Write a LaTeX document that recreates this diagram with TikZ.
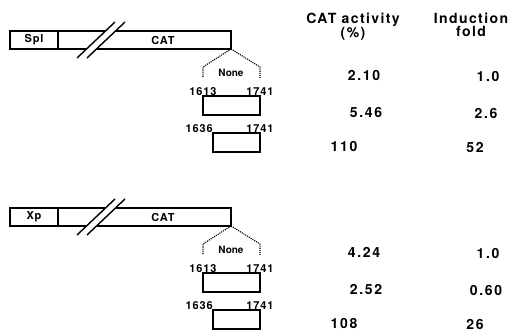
\documentclass[tikz,border=0pt]{standalone}
\usepackage{fontspec}
\setmainfont{TeX Gyre Heros}
\usepackage{tikz}
\usetikzlibrary{calc, positioning}

\begin{document}
\begin{tikzpicture}[x=1pt, y=-1pt,
    bar/.style={draw, line width=1.4pt, minimum height=18, inner sep=0, outer sep=0, anchor=north west,
        font=\bfseries\fontsize{11}{11}\selectfont\addfontfeatures{LetterSpace=8}},
    delbox/.style={draw, line width=1.4pt, minimum height=19, inner sep=0, outer sep=0, anchor=north east},
    lbl/.style={inner sep=0, font=\bfseries\fontsize{11}{11}\selectfont\addfontfeatures{LetterSpace=8}},
    val/.style={inner sep=0, font=\bfseries\fontsize{14}{14}\selectfont\addfontfeatures{LetterSpace=12}},
    head/.style={inner sep=0, anchor=north, align=center,
        font=\bfseries\fontsize{14}{13}\selectfont\addfontfeatures{LetterSpace=10}},
    dots/.style={densely dotted, line width=1.1pt}]
    \useasboundingbox (0,0) rectangle (509,331);

    % Tiêu đề các cột
    \node[head] (acthead) at (353,13) {CAT activity\\(\%)};
    \node[head] (foldhead) at (471,13) {Induction\\fold};

    \foreach \p/\dy/\prom/\va/\vb/\vc/\fa/\fb/\fc in
        {a/0/Spl/2.10/5.46/110/1.0/2.6/52, b/177/Xp/4.24/2.52/108/1.0/0.60/26} {
        % Cấu trúc promoter - CAT
        \node[bar, minimum width=48] (prom\p) at (10,{31+\dy}) {\prom};
        \node[bar, minimum width=173] (cat\p) at (prom\p.north east) {};
        \node[lbl] (catlbl\p) at (163,{40+\dy}) {CAT};

        % Dấu ngắt
        \fill[white] (77,{58+\dy}) -- (115,{22+\dy}) -- (125,{22+\dy}) -- (87,{58+\dy}) -- cycle;
        \draw[line width=1.4pt] (77,{58+\dy}) -- (115,{22+\dy});
        \draw[line width=1.4pt] (87,{58+\dy}) -- (125,{22+\dy});

        % Vùng xóa đoạn
        \coordinate (dl\p) at (203,{67+\dy});
        \coordinate (dr\p) at (260,{67+\dy});
        \draw[dots] (cat\p.south east) -- (dl\p) -- ++(0,11);
        \draw[dots] (cat\p.south east) -- (dr\p) -- ++(0,11);
        \node[lbl, font=\bfseries\fontsize{10}{10}\selectfont] (none\p) at (231,{73+\dy}) {None};

        \node[delbox, minimum width=57] (dela\p) at (260,{96+\dy}) {};
        \node[lbl, anchor=south] (dela\p l) at (dela\p.north west) {1613};
        \node[lbl, anchor=south] (dela\p r) at (dela\p.north east) {1741};
        \node[delbox, minimum width=47] (delb\p) at (260,{133+\dy}) {};
        \node[lbl, anchor=south east] (delb\p l) at (delb\p.north west) {1636};
        \node[lbl, anchor=south] (delb\p r) at (delb\p.north east) {1741};

        % Số liệu
        \node[val] (va\p) at (364,{75+\dy}) {\va};
        \node[val] (vb\p) at (366,{112+\dy}) {\vb};
        \node[val] (vc\p) at (344,{146+\dy}) {\vc};
        \node[val] (fa\p) at (488,{76+\dy}) {\fa};
        \node[val] (fb\p) at (486,{113+\dy}) {\fb};
        \node[val] (fc\p) at (475,{147+\dy}) {\fc};
    }
\end{tikzpicture}
\end{document}
